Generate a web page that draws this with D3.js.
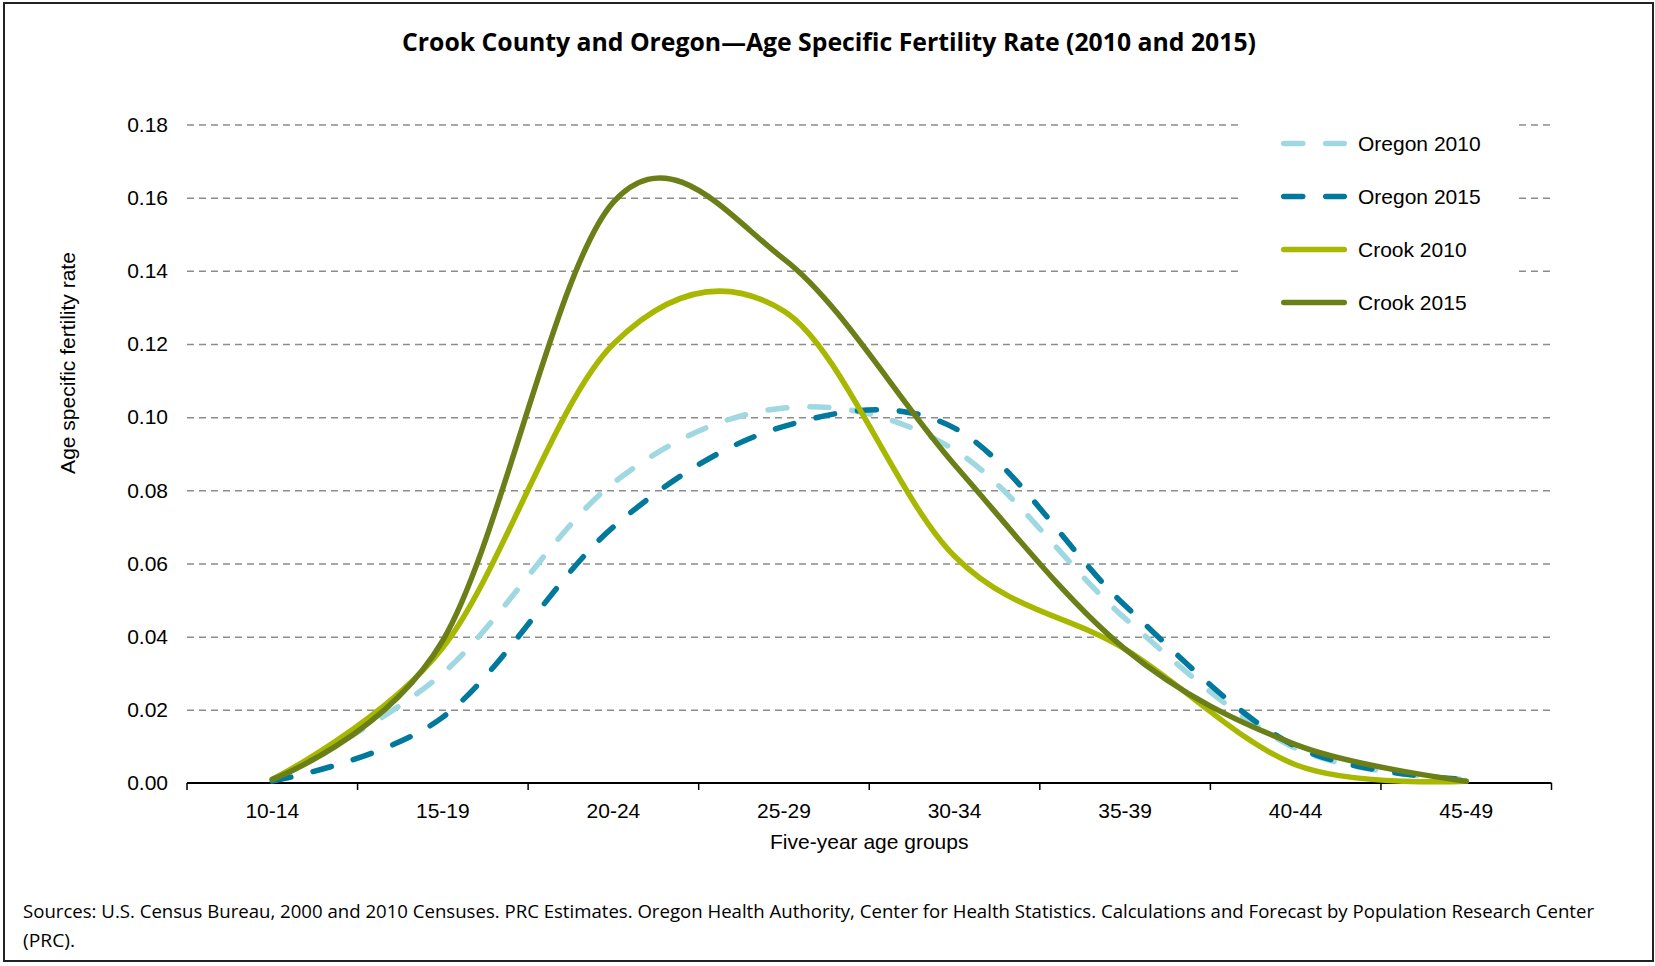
<!DOCTYPE html>
<html>
<head>
<meta charset="utf-8">
<script src="https://cdn.jsdelivr.net/npm/d3@7"></script>
<style>
  body { margin: 0; background: #fff; }
  text { font-family: "Liberation Sans", Arial, sans-serif; fill: #000; }
</style>
</head>
<body>
<div id="chart"></div>
<script>
// values
var ageGroups = ["10-14", "15-19", "20-24", "25-29", "30-34", "35-39", "40-44", "45-49"];
var oregon2010 = [0.001, 0.030, 0.082, 0.1025, 0.091, 0.045, 0.0095, 0.001];
var oregon2015 = [0.0005, 0.018, 0.070, 0.0975, 0.097, 0.0485, 0.010, 0.001];
var crook2010 = [0.001, 0.037, 0.120, 0.129, 0.062, 0.0366, 0.005, 0.0005];
var crook2015 = [0.001, 0.039, 0.1588, 0.1432, 0.087, 0.0366, 0.0105, 0.0005];
var seriesNames = ["Oregon 2010", "Oregon 2015", "Crook 2010", "Crook 2015"];
var yTicks = [0, 0.02, 0.04, 0.06, 0.08, 0.10, 0.12, 0.14, 0.16, 0.18];

var W = 1655, H = 966;
var plotLeft = 187, plotRight = 1551.5, plotTop = 124.5, plotBottom = 783;

var series = [
  {name: seriesNames[0], values: oregon2010, color: "#9fd8e1", dash: "19,23"},
  {name: seriesNames[1], values: oregon2015, color: "#00799c", dash: "19,23"},
  {name: seriesNames[2], values: crook2010, color: "#a8b800", dash: null},
  {name: seriesNames[3], values: crook2015, color: "#6b7f18", dash: null}
];

var svg = d3.select("#chart").append("svg")
    .attr("width", W)
    .attr("height", H);

svg.append("rect")
    .attr("x", 4).attr("y", 3)
    .attr("width", 1649).attr("height", 958)
    .attr("fill", "#fff")
    .attr("stroke", "#222")
    .attr("stroke-width", 2);

var x = d3.scaleBand().domain(ageGroups).range([plotLeft, plotRight]);
var y = d3.scaleLinear().domain([0, 0.18]).range([plotBottom, plotTop]);
var cx = function(d) { return x(d) + x.bandwidth() / 2; };

// gridlines + y labels
var yAxis = svg.append("g")
    .attr("transform", "translate(" + plotLeft + ",0)")
    .call(d3.axisLeft(y).tickValues(yTicks).tickFormat(d3.format(".2f"))
      .tickSize(-(plotRight - plotLeft)).tickPadding(19));
yAxis.select(".domain").remove();
yAxis.selectAll("line")
    .attr("stroke", "#8c8c8c")
    .attr("stroke-width", 1.5)
    .attr("stroke-dasharray", "7,5")
    .filter(function(d) { return d === 0; }).remove();
yAxis.selectAll("text")
    .style("font-size", "21px")
    .style("font-family", "'Liberation Sans', Arial, sans-serif")
    .attr("fill", "#000");

// x axis
var xAxis = svg.append("g")
    .attr("transform", "translate(0," + plotBottom + ")")
    .call(d3.axisBottom(x).tickSize(0).tickPadding(20));
xAxis.select(".domain").remove();
xAxis.selectAll("text")
    .style("font-size", "21px")
    .style("font-family", "'Liberation Sans', Arial, sans-serif")
    .attr("fill", "#000");

var bounds = ageGroups.map(function(d) { return x(d); }).concat([plotRight]);
svg.append("g").selectAll("line")
    .data(bounds)
    .enter().append("line")
    .attr("x1", function(d) { return d; })
    .attr("x2", function(d) { return d; })
    .attr("y1", plotBottom)
    .attr("y2", plotBottom + 7)
    .attr("stroke", "#000")
    .attr("stroke-width", 1.5);
svg.append("line")
    .attr("x1", plotLeft).attr("x2", plotRight)
    .attr("y1", plotBottom).attr("y2", plotBottom)
    .attr("stroke", "#000").attr("stroke-width", 2);

// legend box hides the gridlines behind it
svg.append("rect")
    .attr("x", 1243).attr("y", 108)
    .attr("width", 275).attr("height", 215)
    .attr("fill", "#fff");

// lines
var line = d3.line()
    .x(function(d, i) { return cx(ageGroups[i]); })
    .y(function(d) { return y(d); })
    .curve(d3.curveCardinal.tension(0));

svg.append("g").selectAll("path")
    .data(series)
    .enter().append("path")
    .attr("d", function(d) { return line(d.values); })
    .attr("fill", "none")
    .attr("stroke", function(d) { return d.color; })
    .attr("stroke-width", 5.5)
    .attr("stroke-linecap", "round")
    .attr("stroke-dasharray", function(d) { return d.dash; });

// legend
var legend = svg.append("g").selectAll("g")
    .data(series)
    .enter().append("g")
    .attr("transform", function(d, i) { return "translate(1281," + (143.5 + i * 53) + ")"; });
legend.append("line")
    .attr("x1", 2.75).attr("x2", 63.25)
    .attr("stroke", function(d) { return d.color; })
    .attr("stroke-width", 5.5)
    .attr("stroke-linecap", "round")
    .attr("stroke-dasharray", function(d) { return d.dash; });
legend.append("text")
    .attr("x", 77)
    .attr("dy", "0.35em")
    .style("font-size", "21px")
    .text(function(d) { return d.name; });

// titles
svg.append("text")
    .attr("x", 829).attr("y", 51)
    .attr("text-anchor", "middle")
    .attr("textLength", 854)
    .attr("lengthAdjust", "spacingAndGlyphs")
    .style("font-family", "'Open Sans', sans-serif")
    .style("font-weight", "bold")
    .style("font-size", "25px")
    .text("Crook County and Oregon\u2014Age Specific Fertility Rate (2010 and 2015)");

svg.append("text")
    .attr("x", (plotLeft + plotRight) / 2).attr("y", 849)
    .attr("text-anchor", "middle")
    .style("font-size", "21px")
    .text("Five-year age groups");

svg.append("text")
    .attr("transform", "translate(75,363) rotate(-90)")
    .attr("text-anchor", "middle")
    .style("font-size", "21px")
    .text("Age specific fertility rate");

svg.append("text")
    .attr("x", 23).attr("y", 918)
    .attr("textLength", 1571)
    .attr("lengthAdjust", "spacingAndGlyphs")
    .style("font-family", "'Open Sans', sans-serif")
    .style("font-size", "18px")
    .text("Sources: U.S. Census Bureau, 2000 and 2010 Censuses. PRC Estimates. Oregon Health Authority, Center for Health Statistics. Calculations and Forecast by Population Research Center");
svg.append("text")
    .attr("x", 23).attr("y", 947)
    .attr("textLength", 52)
    .attr("lengthAdjust", "spacingAndGlyphs")
    .style("font-family", "'Open Sans', sans-serif")
    .style("font-size", "18px")
    .text("(PRC).");
</script>
</body>
</html>
